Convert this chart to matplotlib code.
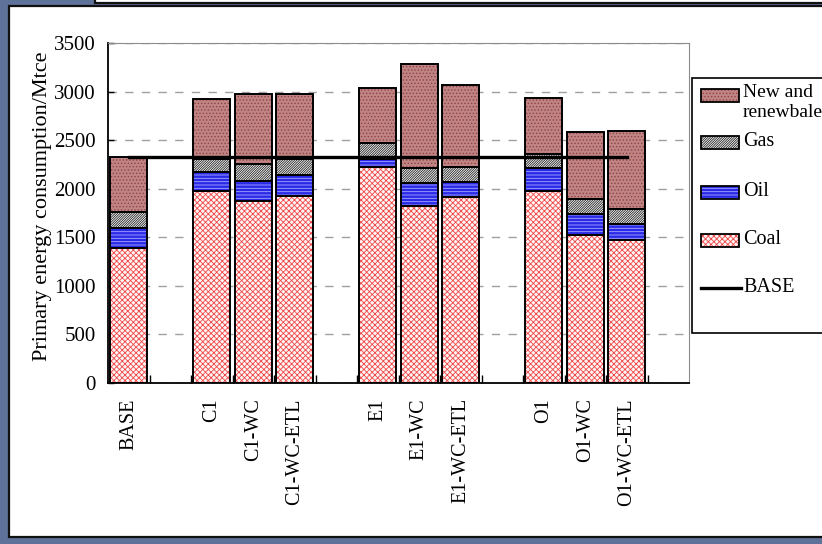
import numpy as np
import matplotlib.pyplot as plt
from matplotlib.patches import Rectangle

plt.rcParams['font.family'] = ['Liberation Serif', 'DejaVu Serif']
plt.rcParams['hatch.linewidth'] = 0.6

# Scenario groups, drawn with one empty slot after each group
groups = [['BASE'],
          ['C1', 'C1-WC', 'C1-WC-ETL'],
          ['E1', 'E1-WC', 'E1-WC-ETL'],
          ['O1', 'O1-WC', 'O1-WC-ETL']]

# Primary energy consumption by source (Mtce)
coal = [1387, 1980, 1877, 1925, 2227, 1822, 1912, 1980, 1524, 1472]
oil = [205, 195, 206, 220, 76, 234, 157, 230, 216, 162]
gas = [165, 131, 168, 158, 171, 154, 158, 147, 154, 154]
renewable = [566, 614, 721, 669, 566, 1074, 844, 577, 687, 810]

base_total = coal[0] + oil[0] + gas[0] + renewable[0]

# slot positions for every scenario
labels, xpos = [], []
slot = 0
for g in groups:
    for name in g:
        labels.append(name)
        xpos.append(slot)
        slot += 1
    slot += 1
n_slots = slot
xpos = np.array(xpos)

# (values, face colour, hatch colour, hatch, legend text)
layers = [
    (coal, '#fff4f4', '#f04848', 'xxxxxx', 'Coal'),
    (oil, '#2a2ae6', '#a8a8ff', '-----', 'Oil'),
    (gas, 'white', '#202020', '/' * 14, 'Gas'),
    (renewable, '#c08484', '#8e4444', '.....', 'New and\nrenewbale'),
]

W, H = 822, 544
fig = plt.figure(figsize=(W / 100, H / 100), dpi=100, facecolor='#5f7299')

# slide frame behind the chart
bg = fig.add_axes([0, 0, 1, 1], zorder=0)
bg.set_xlim(0, W)
bg.set_ylim(H, 0)
bg.axis('off')
bg.add_patch(Rectangle((9, 6), 830, 531, facecolor='white', edgecolor='#111111', lw=1.6))
bg.add_patch(Rectangle((95, -20), 740, 23, facecolor='white', edgecolor='#111111', lw=1.6))

ax = fig.add_axes([108 / W, 1 - 383 / H, 581 / W, 340 / H], zorder=1)
ax.set_facecolor('white')

bottom = np.zeros(len(coal))
for vals, face, hcol, hatch, _ in layers:
    vals = np.array(vals, dtype=float)
    ax.bar(xpos, vals, 0.9, bottom=bottom, color=face, edgecolor=hcol,
           hatch=hatch, linewidth=0, zorder=2)
    ax.bar(xpos, vals, 0.9, bottom=bottom, fill=False, edgecolor='black',
           linewidth=1.4, zorder=3)
    bottom += vals

# BASE total as a reference line
ax.plot([xpos[0], xpos[-1]], [base_total, base_total], color='black', lw=2.4, zorder=4)

ax.set_xlim(-0.5, n_slots - 0.5)
ax.set_ylim(0, 3500)
ax.set_yticks(np.arange(0, 3501, 500))
ax.set_xticks(xpos)
ax.set_xticklabels(labels, rotation=90, fontsize=14.5)
ax.set_xticks(np.arange(0.5, n_slots - 0.5, 1), minor=True)
ax.tick_params(axis='x', which='major', length=0, pad=11)
ax.tick_params(axis='x', which='minor', direction='in', length=6, width=1)
ax.tick_params(axis='y', direction='in', length=4, width=1, labelsize=15, pad=9)
ax.yaxis.grid(True, color='#a0a0a0', linestyle=(0, (6, 6)), lw=1)
ax.set_axisbelow(True)

for s in ['top', 'right']:
    ax.spines[s].set_color('#8c8c8c')
for s in ['left', 'bottom']:
    ax.spines[s].set_color('black')
    ax.spines[s].set_linewidth(1.3)

ax.set_ylabel('Primary energy consumption/Mtce', fontsize=16)
ax.yaxis.set_label_coords(-0.097, 0.52)

# legend box on the right
lg = fig.add_axes([0, 0, 1, 1], zorder=2)
lg.set_xlim(0, W)
lg.set_ylim(H, 0)
lg.axis('off')
lg.patch.set_alpha(0)
lg.add_patch(Rectangle((692, 78), 150, 255, facecolor='white', edgecolor='black', lw=1.2))
rows = {'New and\nrenewbale': 95, 'Gas': 142, 'Oil': 192, 'Coal': 240}
for vals, face, hcol, hatch, name in layers:
    y = rows[name]
    lg.add_patch(Rectangle((701, y - 6.5), 38, 13, facecolor=face, edgecolor=hcol,
                           hatch=hatch, lw=0))
    lg.add_patch(Rectangle((701, y - 6.5), 38, 13, fill=False, edgecolor='black', lw=1.3))
    if '\n' in name:
        lg.text(743, y - 11, name, fontsize=14, va='top', ha='left', linespacing=1.2)
    else:
        lg.text(743, y, name, fontsize=14.5, va='center', ha='left')
lg.plot([701, 741], [288, 288], color='black', lw=2.4)
lg.text(743, 288, 'BASE', fontsize=14.5, va='center', ha='left')

fig.savefig('out.png', dpi=100, facecolor=fig.get_facecolor())
